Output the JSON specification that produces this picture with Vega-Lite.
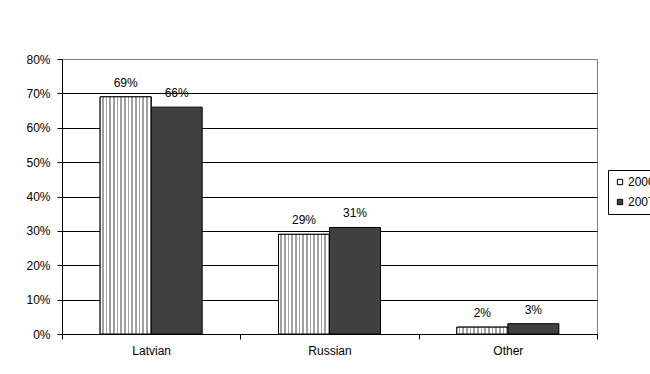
{
  "$schema": "https://vega.github.io/schema/vega-lite/v6.json",
  "width": 535,
  "height": 275,
  "autosize": {"type": "none"},
  "padding": {"left": 62, "top": 59, "right": 53, "bottom": 40},
  "background": "white",
  "config": {
    "font": "Liberation Sans",
    "view": {"stroke": "#808080", "strokeWidth": 1},
    "axis": {"labelFont": "Liberation Sans", "labelFontSize": 12, "labelColor": "black", "domainColor": "black", "tickColor": "black", "tickSize": 5, "domainWidth": 1, "tickWidth": 1}
  },
  "data": {
    "values": [
      {"group": "Latvian", "year": "2000", "share": 0.69},
      {"group": "Latvian", "year": "2007", "share": 0.66},
      {"group": "Russian", "year": "2000", "share": 0.29},
      {"group": "Russian", "year": "2007", "share": 0.31},
      {"group": "Other", "year": "2000", "share": 0.02},
      {"group": "Other", "year": "2007", "share": 0.03}
    ]
  },
  "encoding": {
    "x": {
      "field": "group", "type": "nominal", "sort": ["Latvian", "Russian", "Other"],
      "scale": {"paddingInner": 0, "paddingOuter": 0},
      "axis": {"title": null, "labelAngle": 0, "tickBand": "extent", "labelPadding": 6, "grid": false}
    },
    "xOffset": {"field": "year", "type": "nominal", "scale": {"domain": ["2000", "2007"], "paddingInner": 0, "paddingOuter": 0.748}},
    "y": {
      "field": "share", "type": "quantitative",
      "scale": {"domain": [0, 0.8]},
      "axis": {
        "title": null, "format": ".0%", "values": [0, 0.1, 0.2, 0.3, 0.4, 0.5, 0.6, 0.7, 0.8],
        "grid": true, "gridColor": {"condition": {"test": "datum.value >= 0.79", "value": "#808080"}, "value": "black"},
        "gridOpacity": 1, "gridWidth": 1, "labelPadding": 7
      }
    }
  },
  "layer": [
    {
      "mark": {"type": "bar", "stroke": "black", "strokeWidth": 1},
      "encoding": {
        "fill": {
          "field": "year", "type": "nominal",
          "scale": {"domain": ["2000", "2007"], "range": ["white", "#404040"]},
          "legend": {
            "title": null, "orient": "none", "legendX": 546, "legendY": 111,
            "strokeColor": "black", "padding": 6, "symbolType": "square", "symbolSize": 28,
            "symbolStrokeColor": "black", "symbolStrokeWidth": 1, "labelFontSize": 12, "labelFont": "Liberation Sans",
            "labelColor": "black", "labelOffset": 2, "rowPadding": 8,
            "encode": {
              "symbols": {
                "update": {
                  "fill": [
                    {"test": "datum.value === '2000'", "value": {"gradient": "linear", "x1": 0, "y1": 0, "x2": 1, "y2": 0, "stops": [
                      {"offset": 0, "color": "white"}, {"offset": 0.4, "color": "white"}, {"offset": 0.4, "color": "#808080"}, {"offset": 0.6, "color": "#808080"}, {"offset": 0.6, "color": "white"}, {"offset": 1, "color": "white"}
                    ]}},
                    {"value": "#404040"}
                  ],
                  "stroke": {"value": "black"}
                }
              }
            }
          }
        }
      }
    },
    {
      "transform": [{"filter": "datum.year === '2000'"}],
      "mark": {
        "type": "bar", "stroke": "black", "strokeWidth": 1,
        "fill": {"gradient": "linear", "x1": 0, "y1": 0, "x2": 1, "y2": 0, "stops": [
          {"offset": 0, "color": "white"}, {"offset": 0.0393, "color": "white"}, {"offset": 0.0393, "color": "#a0a0a0"}, {"offset": 0.0714, "color": "#a0a0a0"},
          {"offset": 0.0714, "color": "white"}, {"offset": 0.1107, "color": "white"}, {"offset": 0.1107, "color": "#a0a0a0"}, {"offset": 0.1429, "color": "#a0a0a0"},
          {"offset": 0.1429, "color": "white"}, {"offset": 0.1821, "color": "white"}, {"offset": 0.1821, "color": "#a0a0a0"}, {"offset": 0.2143, "color": "#a0a0a0"},
          {"offset": 0.2143, "color": "white"}, {"offset": 0.2536, "color": "white"}, {"offset": 0.2536, "color": "#a0a0a0"}, {"offset": 0.2857, "color": "#a0a0a0"},
          {"offset": 0.2857, "color": "white"}, {"offset": 0.325, "color": "white"}, {"offset": 0.325, "color": "#a0a0a0"}, {"offset": 0.3571, "color": "#a0a0a0"},
          {"offset": 0.3571, "color": "white"}, {"offset": 0.3964, "color": "white"}, {"offset": 0.3964, "color": "#a0a0a0"}, {"offset": 0.4286, "color": "#a0a0a0"},
          {"offset": 0.4286, "color": "white"}, {"offset": 0.4679, "color": "white"}, {"offset": 0.4679, "color": "#a0a0a0"}, {"offset": 0.5, "color": "#a0a0a0"},
          {"offset": 0.5, "color": "white"}, {"offset": 0.5393, "color": "white"}, {"offset": 0.5393, "color": "#a0a0a0"}, {"offset": 0.5714, "color": "#a0a0a0"},
          {"offset": 0.5714, "color": "white"}, {"offset": 0.6107, "color": "white"}, {"offset": 0.6107, "color": "#a0a0a0"}, {"offset": 0.6429, "color": "#a0a0a0"},
          {"offset": 0.6429, "color": "white"}, {"offset": 0.6821, "color": "white"}, {"offset": 0.6821, "color": "#a0a0a0"}, {"offset": 0.7143, "color": "#a0a0a0"},
          {"offset": 0.7143, "color": "white"}, {"offset": 0.7536, "color": "white"}, {"offset": 0.7536, "color": "#a0a0a0"}, {"offset": 0.7857, "color": "#a0a0a0"},
          {"offset": 0.7857, "color": "white"}, {"offset": 0.825, "color": "white"}, {"offset": 0.825, "color": "#a0a0a0"}, {"offset": 0.8571, "color": "#a0a0a0"},
          {"offset": 0.8571, "color": "white"}, {"offset": 0.8964, "color": "white"}, {"offset": 0.8964, "color": "#a0a0a0"}, {"offset": 0.9286, "color": "#a0a0a0"},
          {"offset": 0.9286, "color": "white"}, {"offset": 0.9679, "color": "white"}, {"offset": 0.9679, "color": "#a0a0a0"}, {"offset": 1, "color": "#a0a0a0"}
        ]}
      }
    },
    {
      "mark": {"type": "text", "baseline": "alphabetic", "dy": -10, "fontSize": 12, "font": "Liberation Sans", "color": "black"},
      "encoding": {"text": {"field": "share", "type": "quantitative", "format": ".0%"}}
    }
  ]
}
